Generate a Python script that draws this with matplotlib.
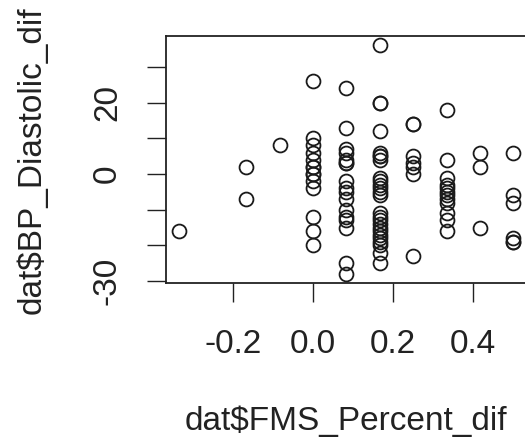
import numpy as np
import matplotlib
matplotlib.use("Agg")
from matplotlib import pyplot as plt

plt.rcParams['font.family'] = ['Liberation Sans', 'DejaVu Sans']
plt.rcParams['axes.unicode_minus'] = False

# FMS percent difference (in twelfths) and the matching diastolic BP differences
fms_levels = [-4/12, -2/12, -1/12, 0.0, 1/12, 2/12, 3/12, 4/12, 5/12, 6/12]
bp_by_level = [
    [-16],
    [2, -7],
    [8],
    [26, 10, 8, 6, 4, 2, 2, 0, 0, -2, -4, -12, -16, -20],
    [24, 13, 7, 6, 4, 3, 3, -2, -4, -5, -7, -10, -12, -13, -15, -25, -28],
    [36, 20, 20, 12, 6, 5, 5, 4, -1, -2, -3, -4, -5, -6, -11, -12, -13, -14,
     -15, -16, -17, -18, -19, -20, -22, -25],
    [14, 14, 5, 3, 2, 0, -23],
    [18, 4, -1, -3, -4, -5, -6, -7, -8, -11, -13, -16],
    [6, 2, -15],
    [6, -6, -8, -18, -19, -19],
]

x_ticks = [-0.2, 0.0, 0.2, 0.4]
x_ticklabels = ['-0.2', '0.0', '0.2', '0.4']
y_ticks = [-30, -20, -10, 0, 10, 20, 30]
y_ticklabels = ['-30', '', '', '0', '', '20', '']

fms = np.concatenate([[lv] * len(v) for lv, v in zip(fms_levels, bp_by_level)])
bp = np.concatenate([np.array(v, dtype=float) for v in bp_by_level])

def r_range(v):
    # base R pads the data range by 4% on each side
    lo, hi = np.min(v), np.max(v)
    d = (hi - lo) * 0.04
    return lo - d, hi + d

W, H = 525, 438
fig = plt.figure(figsize=(W / 100, H / 100), dpi=100)
ax = fig.add_axes([166 / W, (H - 283.1) / H, (526.7 - 166) / W, (283.1 - 36.3) / H])

ax.plot(fms, bp, 'o', ms=10, mfc='none', mec='#1a1a1a', mew=1.3, ls='none')

ax.set_xlim(*r_range(fms))
ax.set_ylim(*r_range(bp))

fs = 24
ax.set_xticks(x_ticks)
ax.set_xticklabels(x_ticklabels, fontsize=fs, color='#222222')
ax.set_yticks(y_ticks)
ax.set_yticklabels(y_ticklabels, fontsize=fs, color='#222222', rotation=90, va='center')
ax.tick_params(length=14, width=1.0, color='#222222')
ax.tick_params(axis='x', pad=19)
ax.tick_params(axis='y', pad=17)

for s in ax.spines.values():
    s.set_linewidth(1.3)
    s.set_color('#222222')

ax.set_xlabel('dat$FMS_Percent_dif', fontsize=fs, color='#222222', va='center')
ax.xaxis.set_label_coords(0.5, -0.5588)
ax.set_ylabel('dat$BP_Diastolic_dif', fontsize=fs, color='#222222', va='center')
ax.yaxis.set_label_coords(-0.3715, 0.5)

fig.savefig('out.png', dpi=100)
